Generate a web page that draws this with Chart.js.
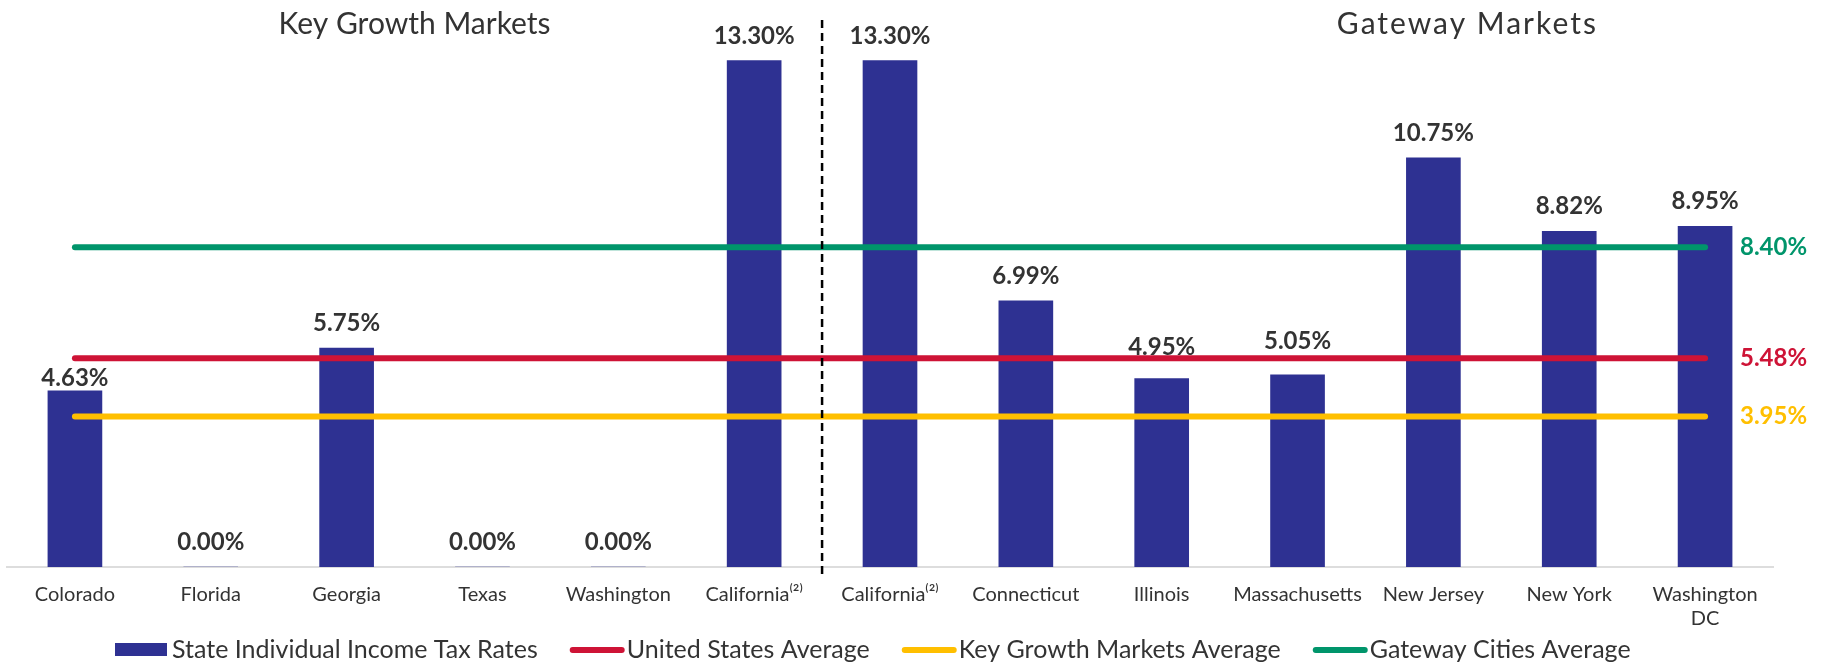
<!DOCTYPE html>
<html>
<head>
<meta charset="utf-8">
<script src="https://cdn.jsdelivr.net/npm/chart.js@4.4.1/dist/chart.umd.min.js"></script>
<style>
  html, body { margin: 0; padding: 0; background: #fff; }
  #wrap { width: 1827px; height: 662px; }
</style>
</head>
<body>
<div id="wrap"><canvas id="taxChart" width="1827" height="662"></canvas></div>
<script>
// categories and values
var states = ["Colorado", "Florida", "Georgia", "Texas", "Washington", "California⁽²⁾",
  "California⁽²⁾", "Connecticut", "Illinois", "Massachusetts", "New Jersey", "New York", "Washington DC"];
var taxRates = [4.63, 0.00, 5.75, 0.00, 0.00, 13.30, 13.30, 6.99, 4.95, 5.05, 10.75, 8.82, 8.95];
var usAverage = 5.48;
var keyGrowthAverage = 3.95;
var gatewayAverage = 8.40;
var groupTitles = ["Key Growth Markets", "Gateway Markets"];

var navy = "#2E3192";
var red = "#CE1336";
var yellow = "#FFBF00";
var green = "#00956B";
var textColor = "#333333";
var fontFamily = "Lato, 'Open Sans', sans-serif";

function avgLine(value) {
  // average spans from the first to the last state
  return [{ x: states[0], y: value }, { x: states[states.length - 1], y: value }];
}

// value labels over bars, averages on the right, group titles and the divider
var annotations = {
  id: "annotations",
  afterDatasetsDraw: function(chart) {
    var ctx = chart.ctx;
    var xs = chart.scales.x;
    var ys = chart.scales.y;
    var bars = chart.getDatasetMeta(0).data;
    // a few labels were nudged in the original so they clear the average lines
    var nudged = { 0: 5, 8: 24, 9: 26 };

    ctx.save();
    ctx.fillStyle = textColor;
    ctx.font = "bold 24px " + fontFamily;
    ctx.textAlign = "center";
    ctx.textBaseline = "alphabetic";
    bars.forEach(function(bar, i) {
      var gap = nudged[i] !== undefined ? nudged[i] : 17;
      ctx.fillText(taxRates[i].toFixed(2) + "%", bar.x, bar.y - gap);
    });

    ctx.textAlign = "left";
    ctx.textBaseline = "middle";
    [[gatewayAverage, green], [usAverage, red], [keyGrowthAverage, yellow]].forEach(function(a) {
      ctx.fillStyle = a[1];
      ctx.fillText(a[0].toFixed(2) + "%", chart.chartArea.right - 33, ys.getPixelForValue(a[0]));
    });

    ctx.fillStyle = textColor;
    ctx.font = "30px " + fontFamily;
    ctx.textAlign = "center";
    ctx.fillText(groupTitles[0], (xs.getPixelForValue(0) + xs.getPixelForValue(5)) / 2, 24);
    ctx.letterSpacing = "2px";
    ctx.fillText(groupTitles[1], xs.getPixelForValue(10.25), 24);
    ctx.letterSpacing = "0px";

    var divX = (xs.getPixelForValue(5) + xs.getPixelForValue(6)) / 2;
    ctx.strokeStyle = "#000";
    ctx.lineWidth = 2.5;
    ctx.setLineDash([8, 5]);
    ctx.beginPath();
    ctx.moveTo(divX, 20);
    ctx.lineTo(divX, ys.getPixelForValue(0) + 8);
    ctx.stroke();
    ctx.restore();
  }
};

// legend row under the axis, items spaced like the original
var bottomLegend = {
  id: "bottomLegend",
  afterDraw: function(chart) {
    var ctx = chart.ctx;
    var y = 650;
    var x = 115;
    ctx.save();
    ctx.font = "25px " + fontFamily;
    ctx.textBaseline = "middle";
    ctx.textAlign = "left";
    chart.data.datasets.forEach(function(ds) {
      if (ds.type === "bar") {
        ctx.fillStyle = ds.backgroundColor;
        ctx.fillRect(x, y - 7, 52, 13);
      } else {
        ctx.strokeStyle = ds.borderColor;
        ctx.lineWidth = 6;
        ctx.lineCap = "round";
        ctx.beginPath();
        ctx.moveTo(x + 3, y);
        ctx.lineTo(x + 52, y);
        ctx.stroke();
      }
      x += 57;
      ctx.fillStyle = textColor;
      ctx.fillText(ds.label, x, y);
      x += ctx.measureText(ds.label).width + 32;
    });
    ctx.restore();
  }
};

var chart = new Chart(document.getElementById("taxChart"), {
  data: {
    labels: states,
    datasets: [
      {
        type: "bar",
        label: "State Individual Income Tax Rates",
        data: taxRates,
        backgroundColor: navy,
        barThickness: 54,
        order: 2
      },
      {
        type: "line",
        label: "United States Average",
        data: avgLine(usAverage),
        borderColor: red,
        borderWidth: 6,
        borderCapStyle: "round",
        pointRadius: 0,
        order: 1
      },
      {
        type: "line",
        label: "Key Growth Markets Average",
        data: avgLine(keyGrowthAverage),
        borderColor: yellow,
        borderWidth: 6,
        borderCapStyle: "round",
        pointRadius: 0,
        order: 1
      },
      {
        type: "line",
        label: "Gateway Cities Average",
        data: avgLine(gatewayAverage),
        borderColor: green,
        borderWidth: 6,
        borderCapStyle: "round",
        pointRadius: 0,
        order: 1
      }
    ]
  },
  options: {
    responsive: false,
    animation: false,
    layout: { padding: { left: 7, right: 54, top: 34, bottom: 0 } },
    scales: {
      x: {
        type: "category",
        offset: true,
        z: 1,
        grid: { display: false, drawTicks: false },
        border: { color: "#dddddd", width: 2 },
        ticks: {
          color: textColor,
          font: { family: fontFamily, size: 20 },
          padding: 16,
          maxRotation: 0,
          autoSkip: false,
          callback: function(value) {
            var label = this.getLabelForValue(value);
            return label === "Washington DC" ? ["Washington", "DC"] : label;
          }
        },
        afterFit: function(scale) { scale.height = 95; }
      },
      y: {
        display: false,
        min: 0,
        max: 14
      }
    },
    plugins: {
      tooltip: { enabled: false },
      legend: { display: false }
    }
  },
  plugins: [annotations, bottomLegend]
});
</script>
</body>
</html>
